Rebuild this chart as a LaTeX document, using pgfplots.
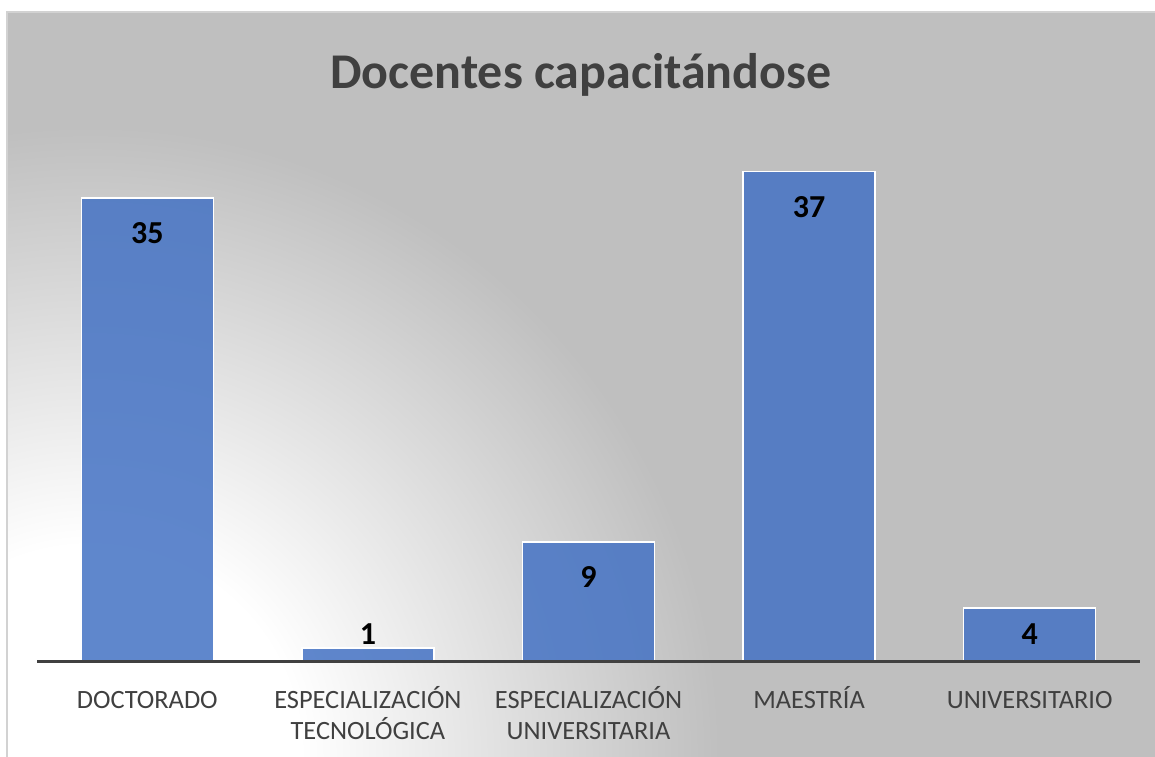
\documentclass[border=0pt]{standalone}
\usepackage{fontspec}
\setmainfont{Carlito}
\usepackage{pgfplots}
\pgfplotsset{compat=1.18}
\definecolor{bggray}{HTML}{BFBFBF}
\definecolor{txtgray}{HTML}{404040}
\definecolor{barblue}{HTML}{4472C4}
\pgfdeclareradialshading{bgshade}{\pgfpointorigin}{color(0bp)=(white); color(7.5bp)=(white); color(22.5bp)=(bggray); color(50bp)=(bggray)}
\newcommand{\twol}[2]{\begin{tabular}[t]{@{}c@{}}#1\\#2\end{tabular}}
\begin{document}
\begin{tikzpicture}[x=1pt,y=1pt]
\path[use as bounding box] (0,0) rectangle (577.5,378);
\fill[white] (0,0) rectangle (577.5,378);
\begin{scope}
\clip (3.5,-1) rectangle (578.5,372);
\fill[bggray] (3.5,-1) rectangle (578.5,372);
\shade[shading=bgshade] (45,0) circle (350);
\end{scope}
\draw[color=gray!35, line width=0.75pt] (3.5,-2) -- (3.5,372) -- (579,372);
\node[font=\fontsize{25}{30}\selectfont\bfseries, text=txtgray, anchor=base, inner sep=0pt] at (290.5,333.75) {Docentes capacitándose};
\begin{axis}[
  at={(18.5pt,47.5pt)}, anchor=south west,
  scale only axis, width=551.5pt, height=264.6pt,
  xmin=-0.5, xmax=4.5, ymin=0, ymax=40,
  axis x line=bottom, axis y line=none,
  axis line style={-, line width=1.5pt, color=txtgray},
  axis on top, clip=false,
  ytick=\empty,
  xtick={0,1,2,3,4},
  xticklabels={DOCTORADO, \twol{ESPECIALIZACIÓN}{TECNOLÓGICA}, \twol{ESPECIALIZACIÓN}{UNIVERSITARIA}, MAESTRÍA, UNIVERSITARIO},
  major tick length=0pt,
  xticklabel style={font=\fontsize{13.2}{15.6}\selectfont, text=txtgray, anchor=base, yshift=-23.5pt, inner sep=0pt},
  /pgf/number format/assume math mode=true,
  ybar, bar width=66pt,
  nodes near coords,
  every node near coord/.append style={font=\fontsize{16}{19}\selectfont\bfseries, text=black, text opacity=1, anchor=base, inner sep=0pt},
]
\addplot[fill=barblue, fill opacity=0.85, draw=white, line width=0.75pt, bar shift=0pt, every node near coord/.append style={yshift=-23pt}] coordinates {(0,35) (2,9) (3,37)};
\addplot[fill=barblue, fill opacity=0.85, draw=white, line width=0.75pt, bar shift=0pt, every node near coord/.append style={yshift=-18pt}] coordinates {(4,4)};
\addplot[fill=barblue, fill opacity=0.85, draw=white, line width=0.75pt, bar shift=0pt, every node near coord/.append style={yshift=1.5pt}] coordinates {(1,1)};
\end{axis}
\end{tikzpicture}
\end{document}
